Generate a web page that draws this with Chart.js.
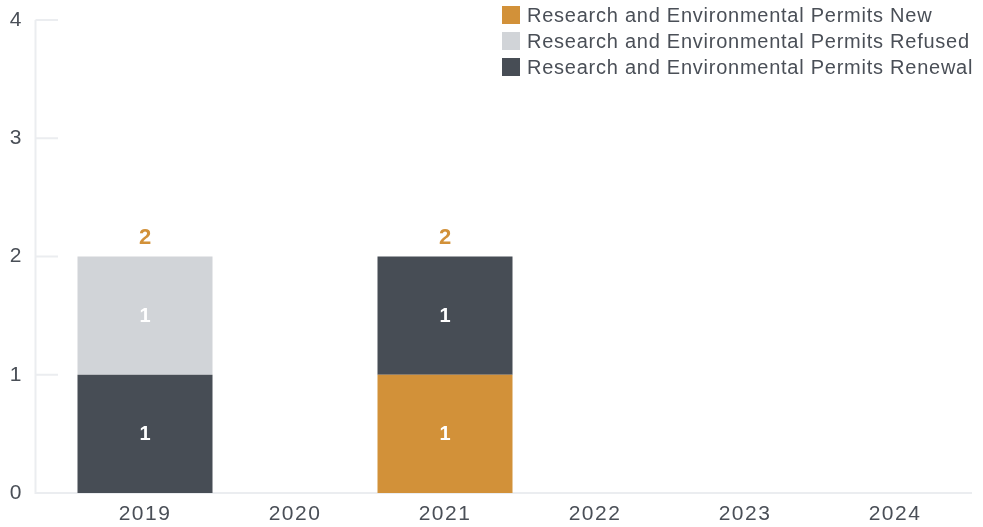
<!DOCTYPE html>
<html>
<head>
<meta charset="utf-8">
<script src="https://cdn.jsdelivr.net/npm/chart.js@4/dist/chart.umd.min.js"></script>
<style>
  html, body { margin: 0; padding: 0; background: #fff; overflow: hidden; }
  canvas { display: block; }
</style>
</head>
<body>
<canvas id="c" width="983" height="527"></canvas>
<script>
// Permit counts per year
const years = ['2019', '2020', '2021', '2022', '2023', '2024'];
const permitsNew     = [0, 0, 1, 0, 0, 0];
const permitsRefused = [1, 0, 0, 0, 0, 0];
const permitsRenewal = [1, 0, 1, 0, 0, 0];
const yTicks = [0, 1, 2, 3, 4];

const COLOR_NEW = '#d29139';
const COLOR_REFUSED = '#d1d4d8';
const COLOR_RENEWAL = '#474d55';
const AXIS_COLOR = '#ebedf0';
const TEXT_COLOR = '#4a4f57';
const FONT = '"Liberation Sans", Arial, Helvetica, sans-serif';

const legendItems = [
  { label: 'Research and Environmental Permits New', color: COLOR_NEW },
  { label: 'Research and Environmental Permits Refused', color: COLOR_REFUSED },
  { label: 'Research and Environmental Permits Renewal', color: COLOR_RENEWAL }
];

const totals = years.map((_, i) => permitsNew[i] + permitsRefused[i] + permitsRenewal[i]);

// Slightly spaced lettering for axis labels
const textSpacing = {
  id: 'textSpacing',
  beforeDraw(chart) { chart.ctx.letterSpacing = '1.5px'; }
};

// Axis line, short tick marks and baseline
const axisLines = {
  id: 'axisLines',
  beforeDatasetsDraw(chart) {
    const { ctx, chartArea, scales } = chart;
    const y = scales.y;
    const axisX = 35.5;
    ctx.save();
    ctx.strokeStyle = AXIS_COLOR;
    ctx.lineWidth = 2;
    ctx.beginPath();
    ctx.moveTo(axisX, y.getPixelForValue(4));
    ctx.lineTo(axisX, y.getPixelForValue(0));
    ctx.lineTo(chartArea.right + 2, y.getPixelForValue(0));
    yTicks.forEach(v => {
      if (v === 0) return;
      const py = y.getPixelForValue(v);
      ctx.moveTo(axisX, py);
      ctx.lineTo(58, py);
    });
    ctx.stroke();
    ctx.restore();
  }
};

// Segment values inside bars and totals above stacks
const valueLabels = {
  id: 'valueLabels',
  afterDatasetsDraw(chart) {
    const { ctx, scales } = chart;
    ctx.save();
    ctx.letterSpacing = '0px';
    ctx.textAlign = 'center';
    ctx.textBaseline = 'middle';
    ctx.font = 'bold 20px ' + FONT;
    ctx.fillStyle = '#ffffff';
    chart.data.datasets.forEach((ds, di) => {
      const meta = chart.getDatasetMeta(di);
      meta.data.forEach((bar, i) => {
        const v = ds.data[i];
        if (!v) return;
        const mid = (bar.y + bar.base) / 2;
        ctx.fillText(String(v), bar.x, mid + 1);
      });
    });
    ctx.font = 'bold 22px ' + FONT;
    ctx.fillStyle = COLOR_NEW;
    totals.forEach((t, i) => {
      if (!t) return;
      const px = scales.x.getPixelForValue(i);
      const py = scales.y.getPixelForValue(t);
      ctx.fillText(String(t), px, py - 19);
    });
    ctx.restore();
  }
};

// Legend block at the top right
const topLegend = {
  id: 'topLegend',
  afterDraw(chart) {
    const { ctx } = chart;
    ctx.save();
    ctx.letterSpacing = '0.75px';
    ctx.font = '20px ' + FONT;
    ctx.textBaseline = 'middle';
    ctx.textAlign = 'left';
    legendItems.forEach((item, k) => {
      const cy = 15 + k * 26;
      ctx.fillStyle = item.color;
      ctx.fillRect(502, cy - 9, 18, 18);
      ctx.fillStyle = TEXT_COLOR;
      ctx.fillText(item.label, 527, cy + 1);
    });
    ctx.restore();
  }
};

new Chart(document.getElementById('c'), {
  type: 'bar',
  data: {
    labels: years,
    datasets: [
      { label: 'Research and Environmental Permits New', data: permitsNew, backgroundColor: COLOR_NEW },
      { label: 'Research and Environmental Permits Renewal', data: permitsRenewal, backgroundColor: COLOR_RENEWAL },
      { label: 'Research and Environmental Permits Refused', data: permitsRefused, backgroundColor: COLOR_REFUSED }
    ]
  },
  options: {
    responsive: false,
    animation: false,
    layout: { padding: { top: 20, right: 13, left: 0, bottom: 0 } },
    datasets: { bar: { barPercentage: 0.9, categoryPercentage: 1.0 } },
    plugins: { legend: { display: false }, tooltip: { enabled: false } },
    scales: {
      x: {
        stacked: true,
        grid: { display: false, drawTicks: false },
        border: { display: false },
        ticks: { color: TEXT_COLOR, font: { family: FONT, size: 21 }, padding: 9, maxRotation: 0 },
        afterFit(scale) { scale.height = 34; scale.paddingLeft = 0; scale.paddingRight = 0; }
      },
      y: {
        stacked: true,
        min: 0,
        max: 4,
        grid: { display: false, drawTicks: false },
        border: { display: false },
        ticks: { stepSize: 1, color: TEXT_COLOR, font: { family: FONT, size: 21 }, padding: 47 },
        afterFit(scale) { scale.width = 70; scale.paddingTop = 0; scale.paddingBottom = 0; }
      }
    }
  },
  plugins: [textSpacing, axisLines, valueLabels, topLegend]
});
</script>
</body>
</html>
